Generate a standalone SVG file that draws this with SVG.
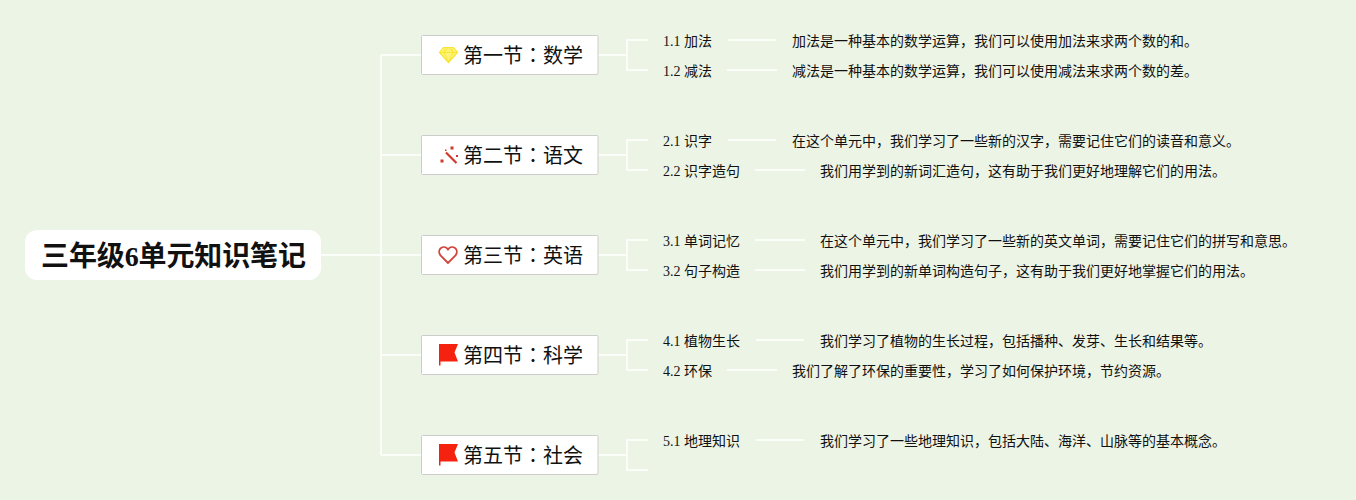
<svg xmlns="http://www.w3.org/2000/svg" width="1356" height="500" viewBox="0 0 1356 500">
<style>
text{font-family:"Liberation Serif","Noto Sans CJK SC",sans-serif;fill:#111}
.c{fill:none;stroke:#fff;stroke-width:1.5}
.n{fill:#fff;stroke:#ccc;stroke-width:1}
.t{font-size:20px}
.k{font-family:"Noto Sans CJK TC",sans-serif}
.l{font-size:14px}
.d{font-size:14px}
</style>
<defs>
<path id="flag" d="M0 0H19L15.500 8.500L19 17.500H1.500V21.500H0Z" fill="#f5220f"/>
</defs>
<rect width="1356" height="500" fill="#ecf4e6"/>
<g id="connectors" class="c">
<path d="M321 255H381M381 55V455M381 55H421M381 155H421M381 255H421M381 355H421M381 455H421"/>
<path d="M598 55H627M648 40H627V70H648M728 40H776M727 70H777"/>
<path d="M598 155H627M648 140H627V170H648M728 140H776M755 170H805"/>
<path d="M598 255H627M648 240H627V270H648M755 240H805M755 270H805"/>
<path d="M598 355H627M648 340H627V370H648M756 340H804M727 370H777"/>
<path d="M598 455H627M648 440H627V470H648M756 440H804"/>
</g>
<g id="root"><rect x="25" y="230" width="296" height="50" rx="12" fill="#fff"/><text x="41" y="266" font-size="28" font-weight="700" fill="#000" textLength="265">三年级6单元知识笔记</text></g>
<g id="s1"><rect class="n" x="421.500" y="35.500" width="176.500" height="39" rx="1"/>
<path d="M443.500 47.500H453.500L457.500 52.500L448.500 62.500L439.500 52.500Z" fill="#fff27a" stroke="#f7e62e" stroke-width="1.200"/><path d="M439.500 52.500H457.500M445.500 47.500L444 52.500L448.500 62M451.500 47.500L453 52.500L448.500 62M448.500 47.500L444 52.500M448.500 47.500L453 52.500" fill="none" stroke="#f7e62e" stroke-width="0.900"/><text class="t" x="463" y="63">第一节<tspan class="k">：</tspan>数学</text></g>
<g id="s2"><rect class="n" x="421.500" y="135.500" width="176.500" height="39" rx="1"/>
<path d="M446 152.500L456.500 163" stroke="#d0392b" stroke-width="2.200"/><path d="M440.500 159.500h3v3h-3zM450.500 146.500h3v3h-3zM456 155h2v2h-2zM445 149.500h1.500v1.500h-1.500z" fill="#d0392b"/><text class="t" x="463" y="163">第二节<tspan class="k">：</tspan>语文</text></g>
<g id="s3"><rect class="n" x="421.500" y="235.500" width="176.500" height="39" rx="1"/>
<path d="M448 263L440.500 255.500C436 249 444 244 448 249.500C452 244 460 249 455.500 255.500Z" fill="none" stroke="#d2453a" stroke-width="1.800"/><text class="t" x="463" y="263">第三节<tspan class="k">：</tspan>英语</text></g>
<g id="s4"><rect class="n" x="421.500" y="335.500" width="176.500" height="39" rx="1"/>
<use href="#flag" x="439" y="344"/><text class="t" x="463" y="363">第四节<tspan class="k">：</tspan>科学</text></g>
<g id="s5"><rect class="n" x="421.500" y="435.500" width="176.500" height="39" rx="1"/>
<use href="#flag" x="439" y="444"/><text class="t" x="463" y="463">第五节<tspan class="k">：</tspan>社会</text></g>
<g id="n11"><text class="l" x="663" y="46">1.1 加法</text><text class="d" x="792" y="46">加法是一种基本的数学运算，我们可以使用加法来求两个数的和。</text></g>
<g id="n12"><text class="l" x="663" y="76">1.2 减法</text><text class="d" x="792" y="76">减法是一种基本的数学运算，我们可以使用减法来求两个数的差。</text></g>
<g id="n21"><text class="l" x="663" y="146">2.1 识字</text><text class="d" x="792" y="146">在这个单元中，我们学习了一些新的汉字，需要记住它们的读音和意义。</text></g>
<g id="n22"><text class="l" x="663" y="176">2.2 识字造句</text><text class="d" x="820" y="176">我们用学到的新词汇造句，这有助于我们更好地理解它们的用法。</text></g>
<g id="n31"><text class="l" x="663" y="246">3.1 单词记忆</text><text class="d" x="820" y="246">在这个单元中，我们学习了一些新的英文单词，需要记住它们的拼写和意思。</text></g>
<g id="n32"><text class="l" x="663" y="276">3.2 句子构造</text><text class="d" x="820" y="276">我们用学到的新单词构造句子，这有助于我们更好地掌握它们的用法。</text></g>
<g id="n41"><text class="l" x="663" y="346">4.1 植物生长</text><text class="d" x="820" y="346">我们学习了植物的生长过程，包括播种、发芽、生长和结果等。</text></g>
<g id="n42"><text class="l" x="663" y="376">4.2 环保</text><text class="d" x="792" y="376">我们了解了环保的重要性，学习了如何保护环境，节约资源。</text></g>
<g id="n51"><text class="l" x="663" y="446">5.1 地理知识</text><text class="d" x="820" y="446">我们学习了一些地理知识，包括大陆、海洋、山脉等的基本概念。</text></g>
</svg>
